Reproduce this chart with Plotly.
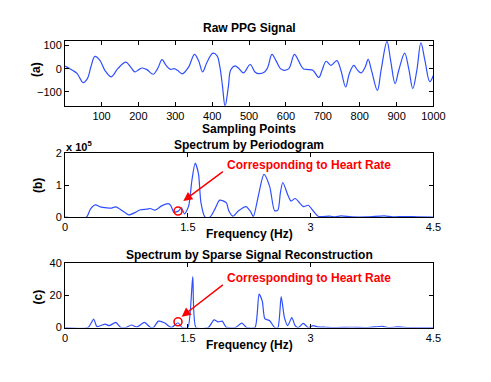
import plotly.graph_objects as go

# Raw PPG signal
ppg_n = [1, 21, 34, 50, 62, 71, 82, 96, 109, 126, 144, 166, 179, 190, 201, 210, 223, 240,
         252, 264, 275, 287, 297, 306, 319, 336, 352, 363, 374, 386, 402, 413, 421, 428,
         435, 444, 450, 462, 473, 485, 503, 516, 525, 542, 551, 562, 573, 585, 595, 608,
         623, 634, 647, 660, 673, 689, 698, 709, 722, 738, 749, 762, 772, 784, 793, 804,
         815, 823, 832, 848, 858, 874, 884, 896, 906, 922, 933, 944, 955, 966, 977, 990, 1000]
ppg_val = [11, -7, -21, -60, -42, 7, 53, 35, -7, -35, 0, 28, 7, -14, -4, 3, -4, -24,
           0, 39, 14, -3, 0, -7, -22, 7, 62, 35, -14, 28, 67, 56, 7, -76,
           -162, -76, -7, 12, 0, -18, 18, -14, -21, -14, 7, 62, 35, 0, -7, 0,
           62, 35, 0, -4, -7, -38, -7, 32, 14, 35, -7, -79, -21, 14, -4, -18,
           7, 40, -7, -94, -7, 118, 35, -65, -7, 67, 0, -86, -7, 111, 35, -56, -28]

# Periodogram spectrum, panel (b), in units of 1e5
pg_freq = [0, 0.26, 0.31, 0.37, 0.43, 0.51, 0.56, 0.62, 0.70, 0.78, 0.86, 0.92, 1.0, 1.04,
           1.10, 1.18, 1.26, 1.29, 1.33, 1.39, 1.42, 1.46, 1.51, 1.55, 1.59, 1.63, 1.66,
           1.71, 1.77, 1.83, 1.89, 1.97, 2.0, 2.05, 2.12, 2.21, 2.26, 2.30, 2.36, 2.43,
           2.5, 2.56, 2.6, 2.63, 2.66, 2.72, 2.76, 2.81, 2.87, 2.91, 2.97, 3.03, 3.09,
           3.15, 3.23, 3.30, 3.37, 3.5, 3.7, 3.9, 4.0, 4.14, 4.3, 4.5]
pg_val = [0, 0, 0.25, 0.38, 0.32, 0.29, 0.28, 0.32, 0.2, 0.07, 0.15, 0.23, 0.25, 0.27,
          0.22, 0.35, 0.42, 0.37, 0.15, 0.2, 0.3, 0.1, 0.35, 1.15, 1.68, 1.35, 0.45,
          0, 0, 0.25, 0.53, 0.45, 0.2, 0.03, 0.2, 0.33, 0.2, 0.02, 0.65, 1.33,
          0.95, 0.2, 0.22, 0.75, 1.08, 0.7, 0.5, 0.58, 0.43, 0.33, 0.37, 0.2, 0.03,
          0.02, 0.03, 0.01, 0.04, 0.01, 0.01, 0.04, 0.01, 0.02, 0.01, 0]

# Sparse signal reconstruction spectrum, panel (c)
ss_freq = [0, 0.28, 0.35, 0.39, 0.49, 0.54, 0.62, 0.68, 0.74, 0.81, 0.88, 0.97, 1.04,
           1.08, 1.14, 1.22, 1.26, 1.30, 1.38, 1.43, 1.50, 1.56, 1.60, 1.75, 1.82, 1.87,
           1.92, 1.97, 2.08, 2.16, 2.22, 2.32, 2.37, 2.41, 2.44, 2.5, 2.56, 2.6, 2.64,
           2.68, 2.72, 2.77, 2.81, 2.85, 2.91, 2.97, 3.03, 3.09, 3.19, 3.3, 3.5, 3.7,
           3.88, 3.95, 4.06, 4.2, 4.5]
ss_val = [0, 0, 5.2, 0.6, 2.2, 1.2, 3.2, 0, 0, 1.6, 0.4, 3.2, 0.2,
          0, 4.0, 2.8, 1.2, 0, 3.0, 0, 0, 31.8, 0, 0, 4.8, 3.6,
          4.0, 0.2, 0, 2.8, 0, 0, 20.9, 16.3, 5.6, 4.2, 0, 0, 19.3,
          6.2, 1.2, 6.2, 1.2, 0, 2.6, 0, 1.2, 0.4, 0.2, 0, 0.2, 0,
          0.8, 0, 0.4, 0, 0]

# heart-rate markers and arrows
hr_b = (1.38, 0.19)
hr_c = (1.38, 3.6)
arrow_b = dict(tip=(1.445, 0.5), tail=(1.946, 1.45), text=(1.955, 1.62))
arrow_c = dict(tip=(1.425, 6.8), tail=(1.946, 27.3), text=(1.95, 31.0))

W, H = 491, 382
BLUE = "#2f4fff"
FONT = "Liberation Sans"


def px(x):
    return x / W


def py(y):
    return 1 - y / H


fig = go.Figure()

fig.add_trace(go.Scatter(x=ppg_n, y=ppg_val, mode="lines", xaxis="x", yaxis="y",
                         line=dict(color=BLUE, width=1.2, shape="spline", smoothing=1.0)))
fig.add_trace(go.Scatter(x=pg_freq, y=pg_val, mode="lines", xaxis="x2", yaxis="y2",
                         line=dict(color=BLUE, width=1.2, shape="spline", smoothing=0.7)))
fig.add_trace(go.Scatter(x=ss_freq, y=ss_val, mode="lines", xaxis="x3", yaxis="y3",
                         line=dict(color=BLUE, width=1.2, shape="spline", smoothing=0.6)))

for (fx, fy), xa, ya in [(hr_b, "x2", "y2"), (hr_c, "x3", "y3")]:
    fig.add_trace(go.Scatter(x=[fx], y=[fy], mode="markers", xaxis=xa, yaxis=ya,
                             marker=dict(symbol="circle-open", size=8, color="red",
                                         line=dict(width=1.6, color="red"))))

axis_common = dict(showgrid=False, zeroline=False, showline=True, linecolor="black",
                   linewidth=1, mirror="ticks", ticks="inside", ticklen=4,
                   tickcolor="black", tickfont=dict(family=FONT, size=11, color="black"))

xdom = [px(64), px(444)]
fig.update_layout(
    width=W, height=H,
    margin=dict(l=0, r=0, t=0, b=0),
    paper_bgcolor="white", plot_bgcolor="white",
    showlegend=False,
    font=dict(family=FONT, color="black"),
    xaxis=dict(domain=xdom, anchor="y", range=[1, 1000],
               tickvals=[100, 200, 300, 400, 500, 600, 700, 800, 900, 1000], **axis_common),
    yaxis=dict(domain=[py(103), py(36)], anchor="x", range=[-160, 120],
               tickvals=[-100, 0, 100], **axis_common),
    xaxis2=dict(domain=xdom, anchor="y2", range=[0, 4.5],
                tickvals=[0, 1.5, 3, 4.5], ticktext=["0", "1.5", "3", "4.5"], **axis_common),
    yaxis2=dict(domain=[py(218), py(151.7)], anchor="x2", range=[0, 2],
                tickvals=[0, 1, 2], **axis_common),
    xaxis3=dict(domain=xdom, anchor="y3", range=[0, 4.5],
                tickvals=[0, 1.5, 3, 4.5], ticktext=["0", "1.5", "3", "4.5"], **axis_common),
    yaxis3=dict(domain=[py(332), py(265.7)], anchor="x3", range=[0, 40],
                tickvals=[0, 20, 40], **axis_common),
)

# titles and axis labels
labels = [
    ("Raw PPG Signal", 254, 23, 0),
    ("Sampling Points", 254, 127, 0),
    ("Spectrum by Periodogram", 254, 143, 0),
    ("Frequency (Hz)", 254, 235, 0),
    ("Spectrum by Sparse Signal Reconstruction", 254, 257, 0),
    ("Frequency (Hz)", 254, 350, 0),
    ("(a)", 34, 65, -90),
    ("(b)", 36, 185, -90),
    ("(c)", 36, 300, -90),
]
for text, x, y, ang in labels:
    fig.add_annotation(text="<b>%s</b>" % text, x=px(x), y=py(y), xref="paper", yref="paper",
                       showarrow=False, textangle=ang, xanchor="center", yanchor="middle",
                       font=dict(family=FONT, size=12, color="black"))

fig.add_annotation(text="<b>x 10<sup>5</sup></b>", x=px(63), y=py(145), xref="paper",
                   yref="paper", showarrow=False, xanchor="left", yanchor="middle",
                   font=dict(family=FONT, size=11, color="black"))

for arr, xa, ya in [(arrow_b, "x2", "y2"), (arrow_c, "x3", "y3")]:
    fig.add_annotation(x=arr["tip"][0], y=arr["tip"][1], ax=arr["tail"][0], ay=arr["tail"][1],
                       xref=xa, yref=ya, axref=xa, ayref=ya, text="", showarrow=True,
                       arrowhead=2, arrowsize=1.2, arrowwidth=1.5, arrowcolor="red")
    fig.add_annotation(x=arr["text"][0], y=arr["text"][1], xref=xa, yref=ya,
                       text="<b>Corresponding to Heart Rate</b>", showarrow=False,
                       xanchor="left", yanchor="middle",
                       font=dict(family=FONT, size=12, color="red"))

# drop the browser's default body margin so the figure sits at the window's corner
fig.write_html("out.html", config={"displayModeBar": False},
               post_script="document.body.style.margin = '0';")
